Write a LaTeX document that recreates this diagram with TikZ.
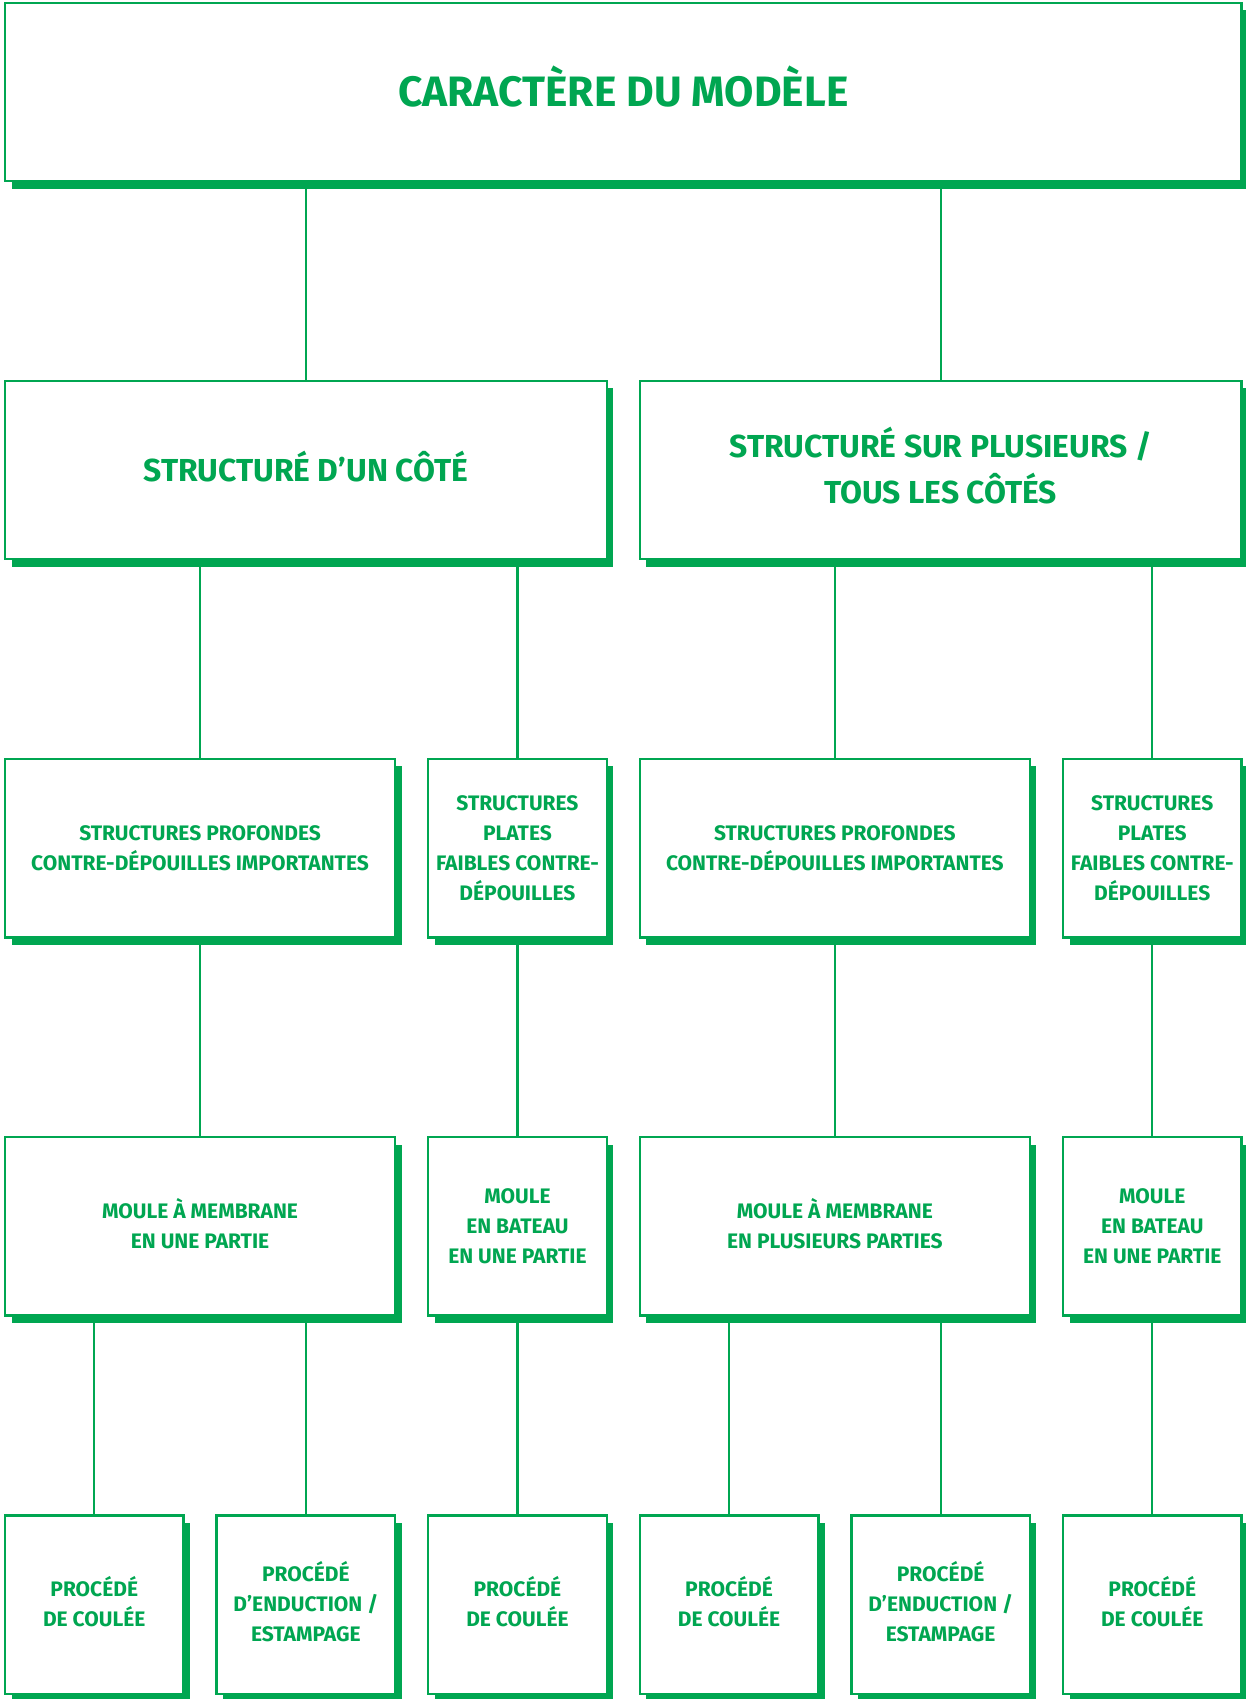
\documentclass[tikz,border=0pt]{standalone}
\usepackage{fontspec}
\setmainfont{Fira Sans}
\usetikzlibrary{shadows}
\definecolor{bgreen}{HTML}{00A651}
\newcommand\cpln[1]{\smash{#1}\vphantom{X}}
\tikzset{
  box/.style={draw=bgreen, line width=2.4pt, fill=white, inner sep=0pt,
    text=bgreen, align=center, minimum height=178.5pt,
    drop shadow={shadow xshift=6.5pt, shadow yshift=-7.5pt, fill=bgreen, opacity=1}},
  smallbox/.style={box, minimum width=178.5pt, font=\bfseries\fontsize{21}{30}\selectfont},
  widebox/.style={box, minimum width=390.1pt, font=\bfseries\fontsize{21}{30}\selectfont},
  midbox/.style={box, minimum width=601.7pt, font=\bfseries\fontsize{31.8}{46}\selectfont},
  topbox/.style={box, minimum width=1236.5pt, font=\bfseries\fontsize{42.5}{50}\selectfont},
  conn/.style={draw=bgreen, line width=2.2pt}
}
\begin{document}
\begin{tikzpicture}[x=1pt,y=-1pt]
\useasboundingbox (0,0) rectangle (1245,1699);
\node[topbox] (top) at (623.25,92) {\cpln{CARACTÈRE DU MODÈLE}};
\node[midbox] (s1) at (305.85,470) {\cpln{STRUCTURÉ D’UN CÔTÉ}};
\node[midbox] (s2) at (940.65,470) {\cpln{STRUCTURÉ SUR PLUSIEURS /}\\TOUS LES CÔTÉS};
\node[widebox] (a3) at (200.05,848.2) {STRUCTURES PROFONDES\\CONTRE-DÉPOUILLES IMPORTANTES};
\node[smallbox] (b3) at (517.45,848.2) {STRUCTURES\\PLATES\\FAIBLES CONTRE-\\DÉPOUILLES};
\node[widebox] (c3) at (834.85,848.2) {STRUCTURES PROFONDES\\CONTRE-DÉPOUILLES IMPORTANTES};
\node[smallbox] (d3) at (1152.25,848.2) {STRUCTURES\\PLATES\\FAIBLES CONTRE-\\DÉPOUILLES};
\node[widebox] (a4) at (200.05,1226.4) {\cpln{MOULE À MEMBRANE}\\EN UNE PARTIE};
\node[smallbox] (b4) at (517.45,1226.4) {MOULE\\EN BATEAU\\EN UNE PARTIE};
\node[widebox] (c4) at (834.85,1226.4) {\cpln{MOULE À MEMBRANE}\\EN PLUSIEURS PARTIES};
\node[smallbox] (d4) at (1152.25,1226.4) {MOULE\\EN BATEAU\\EN UNE PARTIE};
\node[smallbox] (p1) at (94.25,1604.6) {\cpln{PROCÉDÉ}\\DE COULÉE};
\node[smallbox] (p2) at (305.85,1604.6) {\cpln{PROCÉDÉ}\\D’ENDUCTION /\\ESTAMPAGE};
\node[smallbox] (p3) at (517.45,1604.6) {\cpln{PROCÉDÉ}\\DE COULÉE};
\node[smallbox] (p4) at (729.05,1604.6) {\cpln{PROCÉDÉ}\\DE COULÉE};
\node[smallbox] (p5) at (940.65,1604.6) {\cpln{PROCÉDÉ}\\D’ENDUCTION /\\ESTAMPAGE};
\node[smallbox] (p6) at (1152.25,1604.6) {\cpln{PROCÉDÉ}\\DE COULÉE};
\draw[conn] (s1.north |- top.south) -- (s1.north);
\draw[conn] (s2.north |- top.south) -- (s2.north);
\draw[conn] (a3.north |- s1.south) -- (a3.north);
\draw[conn] (b3.north |- s1.south) -- (b3.north);
\draw[conn] (c3.north |- s2.south) -- (c3.north);
\draw[conn] (d3.north |- s2.south) -- (d3.north);
\draw[conn] (a3.south) -- (a4.north);
\draw[conn] (b3.south) -- (b4.north);
\draw[conn] (c3.south) -- (c4.north);
\draw[conn] (d3.south) -- (d4.north);
\draw[conn] (p1.north |- a4.south) -- (p1.north);
\draw[conn] (p2.north |- a4.south) -- (p2.north);
\draw[conn] (b4.south) -- (p3.north);
\draw[conn] (p4.north |- c4.south) -- (p4.north);
\draw[conn] (p5.north |- c4.south) -- (p5.north);
\draw[conn] (d4.south) -- (p6.north);
\end{tikzpicture}
\end{document}
